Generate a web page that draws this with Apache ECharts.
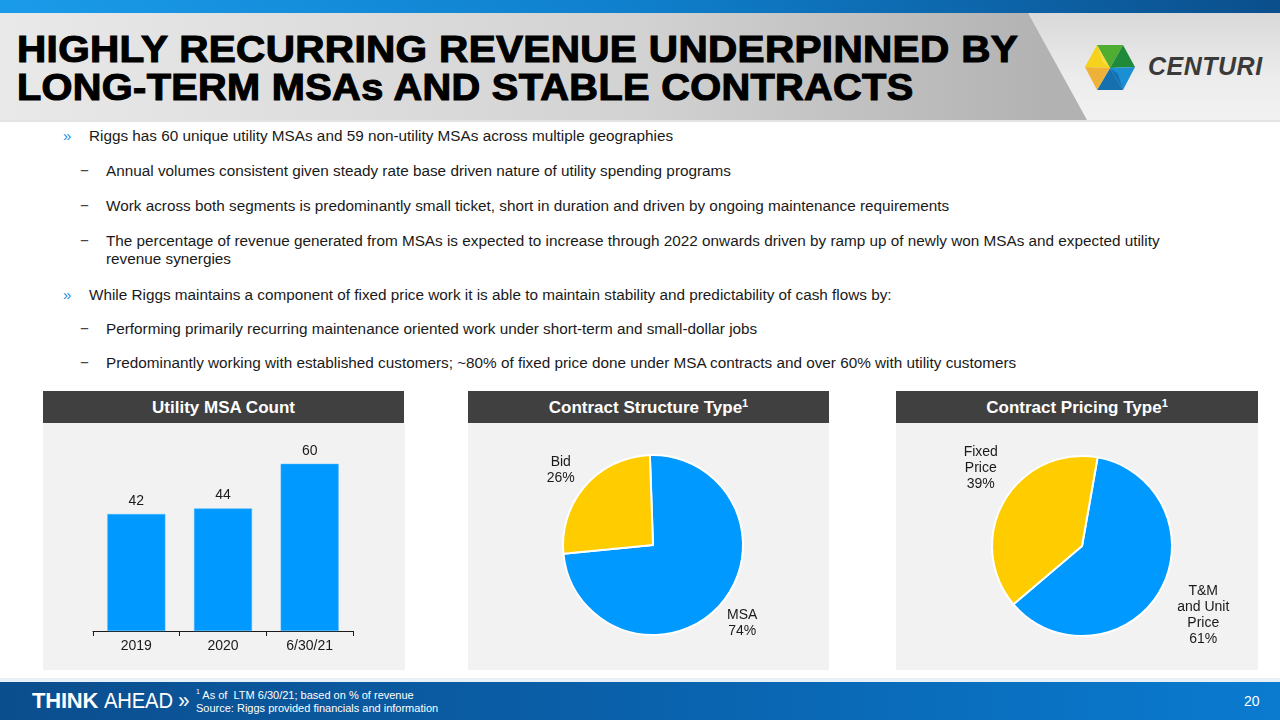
<!DOCTYPE html>
<html>
<head>
<meta charset="utf-8">
<script src="https://cdn.jsdelivr.net/npm/echarts@6/dist/echarts.min.js"></script>
<style>
  html, body { margin: 0; padding: 0; }
  body { width: 1280px; height: 720px; position: relative; overflow: hidden; background: #fff;
         font-family: "Liberation Sans", Arial, sans-serif; color: #1a1a1a; }
  .abs { position: absolute; }
  #topbar { left: 0; top: 0; width: 1280px; height: 13px;
            background: linear-gradient(90deg, #1a9be9 0%, #0f7fcc 50%, #0b4f8c 100%); }
  #hdr { left: 0; top: 13px; width: 1280px; height: 107px;
         background: linear-gradient(90deg, #e9e9e9 0%, #d2d2d2 50%, #b2b2b2 82%); }
  #hdrR { left: 0; top: 13px; width: 1280px; height: 107px;
          background: linear-gradient(180deg, #d9d9d9 0%, #ececec 60%, #f2f2f2 100%);
          clip-path: polygon(1028px 0, 1280px 0, 1280px 107px, 1087px 107px); }
  #hdrLine { left: 0; top: 120px; width: 1280px; height: 2px; background: #e4e4e4; }
  .title { left: 17px; font-weight: bold; font-size: 37px; color: #000; letter-spacing: 0.3px;
           -webkit-text-stroke: 1.1px #000; white-space: nowrap; line-height: 1; transform-origin: 0 0; }
  .bul { font-size: 15.3px; white-space: nowrap; line-height: 18px; color: #1a1a1a; }
  .mk { color: #1a8fe0; font-size: 15px; }
  .dash { color: #333; }
  .phead { background: #404040; color: #fff; font-weight: bold; font-size: 17px; text-align: center;
           height: 32px; line-height: 33px; }
  .phead sup { font-size: 11px; vertical-align: 0; position: relative; top: -6px; }
  .pbody { background: #f2f2f2; }
  #footer { left: 0; top: 682px; width: 1280px; height: 38px;
            background: linear-gradient(90deg, #0b4e8e 0%, #0a5fa8 45%, #0a7bd0 100%); }
  #footTop { left: 0; top: 678px; width: 1280px; height: 4px; background: #e8f1f8; }
  #chart { left: 0; top: 0; width: 1280px; height: 720px; }
</style>
</head>
<body>
<div id="topbar" class="abs"></div>
<div id="hdr" class="abs"></div>
<div id="hdrR" class="abs"></div>
<div id="hdrLine" class="abs"></div>
<div class="abs title" id="t1" style="top:31px; transform:scaleX(1.095);">HIGHLY RECURRING REVENUE UNDERPINNED BY</div>
<div class="abs title" id="t2" style="top:69px; transform:scaleX(1.074);">LONG-TERM MSAs AND STABLE CONTRACTS</div>

<svg class="abs" style="left:1080px; top:40px;" width="60" height="56" viewBox="0 0 60 56">
  <polygon points="30,28 5,27 17,5" fill="#f5d21c"/>
  <polygon points="30,28 17,5 43,5" fill="#4fae32"/>
  <polygon points="30,28 43,5 55,27" fill="#1e8a3a"/>
  <polygon points="30,28 55,27 43,50" fill="#1a8fd4"/>
  <polygon points="30,28 43,50 17,50" fill="#1670b0"/>
  <polygon points="30,28 17,50 5,27" fill="#eeb238"/>
  <polygon points="30,28 17,5 22,22" fill="#f7e04a" opacity="0.7"/>
  <polygon points="30,28 43,50 38,34" fill="#0f5f9c" opacity="0.6"/>
</svg>
<div class="abs" style="left:1148px; top:52px; font-size:25px; font-weight:bold; font-style:italic; color:#3a3a3a; letter-spacing:0.5px;">CENTURI</div>

<div class="abs bul" style="left:63px; top:127px;"><span class="mk">»</span></div>
<div class="abs bul" style="left:89px; top:127px;">Riggs has 60 unique utility MSAs and 59 non-utility MSAs across multiple geographies</div>
<div class="abs bul dash" style="left:80px; top:162px;">−</div>
<div class="abs bul" style="left:106px; top:162px;">Annual volumes consistent given steady rate base driven nature of utility spending programs</div>
<div class="abs bul dash" style="left:80px; top:197px;">−</div>
<div class="abs bul" style="left:106px; top:197px;">Work across both segments is predominantly small ticket, short in duration and driven by ongoing maintenance requirements</div>
<div class="abs bul dash" style="left:80px; top:232px;">−</div>
<div class="abs bul" style="left:106px; top:232px;">The percentage of revenue generated from MSAs is expected to increase through 2022 onwards driven by ramp up of newly won MSAs and expected utility<br>revenue synergies</div>
<div class="abs bul" style="left:63px; top:286px;"><span class="mk">»</span></div>
<div class="abs bul" style="left:89px; top:286px;">While Riggs maintains a component of fixed price work it is able to maintain stability and predictability of cash flows by:</div>
<div class="abs bul dash" style="left:80px; top:320px;">−</div>
<div class="abs bul" style="left:106px; top:320px;">Performing primarily recurring maintenance oriented work under short-term and small-dollar jobs</div>
<div class="abs bul dash" style="left:80px; top:354px;">−</div>
<div class="abs bul" style="left:106px; top:354px;">Predominantly working with established customers; ~80% of fixed price done under MSA contracts and over 60% with utility customers</div>

<div class="abs phead" style="left:43px; top:391px; width:361px;">Utility MSA Count</div>
<div class="abs pbody" style="left:43px; top:423px; width:362px; height:247px;"></div>
<div class="abs phead" style="left:468px; top:391px; width:361px;">Contract Structure Type<sup>1</sup></div>
<div class="abs pbody" style="left:468px; top:423px; width:361px; height:247px;"></div>
<div class="abs phead" style="left:896px; top:391px; width:362px;">Contract Pricing Type<sup>1</sup></div>
<div class="abs pbody" style="left:896px; top:423px; width:362px; height:247px;"></div>

<div id="footTop" class="abs"></div>
<div id="footer" class="abs"></div>
<div class="abs" style="left:32px; top:688px; color:#fff; font-size:22px; white-space:nowrap; letter-spacing:-0.2px;"><b>THINK</b> <span style="font-weight:normal; transform:scaleX(0.92); display:inline-block; transform-origin:0 0;">AHEAD »</span></div>
<div class="abs" style="left:196px; top:685px; color:#fff; font-size:11px; line-height:13.5px; white-space:nowrap;"><sup style="font-size:7px;">1</sup> As of &nbsp;LTM 6/30/21; based on % of revenue<br>Source: Riggs provided financials and information</div>
<div class="abs" style="left:1244px; top:693px; color:#fff; font-size:14px;">20</div>

<div id="chart" class="abs"></div>

<script>
// ---- data ----
var msaCategories = ['2019', '2020', '6/30/21'];
var msaCounts = [42, 44, 60];

var structureNames = ['MSA', 'Bid'];
var structureValues = [74, 26];

var pricingNames = ['T&M\nand Unit\nPrice', 'Fixed\nPrice'];
var pricingValues = [61, 39];

var BLUE = '#0099ff';
var YELLOW = '#ffcc00';

// label nudges (layout only), keyed by seriesIndex then dataIndex
var labelNudge = {
  1: [[-7, 10], [4, -6]],
  2: [[0, 17], [20, -26]]
};

var chart = echarts.init(document.getElementById('chart'), null, { renderer: 'canvas' });

function pieLabel(width) {
  return {
    show: true,
    position: 'outside',
    formatter: function (p) {
      var lines = p.name.split('\n').concat([p.value + '%']);
      return lines.map(function (l) { return '{a|' + l + '}'; }).join('\n');
    },
    rich: { a: { fontSize: 14, lineHeight: 16, color: '#1a1a1a', align: 'center', width: width,
                 fontFamily: 'Liberation Sans, Arial, sans-serif' } },
    distanceToLabelLine: 0
  };
}

function nudge(params) {
  var s = labelNudge[params.seriesIndex];
  if (!s) return {};
  var d = s[params.dataIndex];
  return { dx: d[0], dy: d[1] };
}

var option = {
  animation: false,
  backgroundColor: 'transparent',
  textStyle: { fontFamily: 'Liberation Sans, Arial, sans-serif' },
  grid: { left: 93, top: 436, width: 260, height: 195, containLabel: false },
  xAxis: {
    type: 'category',
    data: msaCategories,
    axisLine: { show: true, lineStyle: { color: '#1a1a1a', width: 1 } },
    axisTick: { show: true, length: 5, lineStyle: { color: '#1a1a1a' } },
    axisLabel: { color: '#1a1a1a', fontSize: 14, margin: 8 }
  },
  yAxis: { type: 'value', min: 0, max: 70, show: false, splitLine: { show: false } },
  series: [
    {
      type: 'bar',
      data: msaCounts,
      barWidth: 58,
      itemStyle: { color: BLUE, borderColor: '#4db8ff', borderWidth: 0.5 },
      label: { show: true, position: 'top', distance: 6, fontSize: 14, color: '#1a1a1a' }
    },
    {
      type: 'pie',
      center: [653, 545],
      radius: [0, 90],
      startAngle: 92,
      clockwise: true,
      data: structureNames.map(function (n, i) { return { name: n, value: structureValues[i] }; }),
      color: [BLUE, YELLOW],
      itemStyle: { borderColor: '#ffffff', borderWidth: 2 },
      label: pieLabel(36),
      labelLine: { show: false, length: 14, length2: 0 },
      labelLayout: nudge
    },
    {
      type: 'pie',
      center: [1082, 546],
      radius: [0, 90],
      startAngle: 80,
      clockwise: true,
      data: pricingNames.map(function (n, i) { return { name: n, value: pricingValues[i] }; }),
      color: [BLUE, YELLOW],
      itemStyle: { borderColor: '#ffffff', borderWidth: 2 },
      label: pieLabel(62),
      labelLine: { show: false, length: 14, length2: 0 },
      labelLayout: nudge
    }
  ]
};
chart.setOption(option);
</script>
</body>
</html>
